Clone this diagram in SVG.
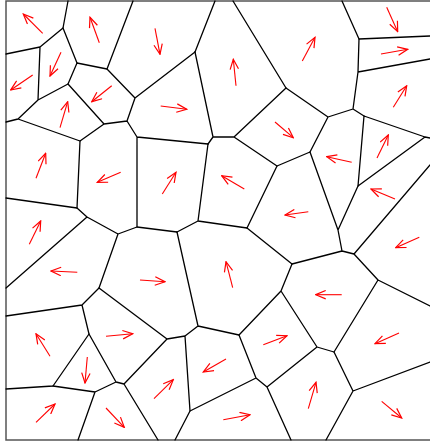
<svg xmlns="http://www.w3.org/2000/svg" width="430" height="443" viewBox="0 0 430 443">
<style>
.edge{fill:none;stroke:#000;stroke-width:1.3;stroke-linecap:round;stroke-linejoin:round}
.frame{fill:none;stroke:#555;stroke-width:1.5}
.arr{fill:none;stroke:#f00;stroke-width:1.1;marker-end:url(#ah)}
</style>
<defs>
<marker id="ah" markerUnits="userSpaceOnUse" viewBox="0 0 12 10" markerWidth="12" markerHeight="10" refX="11" refY="5" orient="auto">
<path d="M1,0.8 L11,5 L1,9.2" fill="none" stroke="#f00" stroke-width="1.2"/>
</marker>
</defs>
<rect id="frame" class="frame" x="6" y="1" width="440" height="439"/>
<g id="connectors" class="edge">
<path d="M68,1 L63,28 M133,1 L107,69 M215,1 L195,52 M233,1 L286,88 M342,1 L359,39"/>
<path d="M63,28 L40,47 M63,28 L77,63 M40,47 L6,54 M40,47 L38,100 M38,100 L18,119 M38,100 L68,84 M18,119 L6,122 M18,119 L80,141"/>
<path d="M77,63 L68,84 M77,63 L107,69 M68,84 L104,124 M104,124 L80,141 M104,124 L127,121 M107,69 L135,98 M135,98 L127,121 M135,98 L195,52 M127,121 L137,137 M137,137 L208,144 M137,137 L137,227 M80,141 L77,208"/>
<path d="M195,52 L213,137 M213,137 L234,137 M213,137 L208,144 M234,137 L286,88 M234,137 L277,166 M286,88 L328,117 M328,117 L353,109 M328,117 L310,152 M353,109 L358,72 M353,109 L364,116 M358,72 L359,39 M358,72 L430,59 M359,39 L430,36"/>
<path d="M364,116 L425,137 M364,116 L358,186 M425,137 L430,138 M425,137 L358,186"/>
<path d="M208,144 L198,221 M198,221 L177,232 M198,221 L247,228 M247,228 L277,166 M277,166 L310,152 M310,152 L338,230 M338,230 L358,186 M338,230 L342,251 M342,251 L354,254 M342,251 L292,264 M354,254 L430,165 M354,254 L378,280 M378,280 L430,306 M378,280 L334,352"/>
<path d="M247,228 L292,264 M292,264 L281,291 M281,291 L239,335 M281,291 L317,347 M317,347 L334,352 M317,347 L267,387 M334,352 L353,391 M353,391 L430,362 M353,391 L326,440 M267,387 L291,440 M267,387 L256,378 M256,378 L239,335 M256,378 L190,411"/>
<path d="M239,335 L198,326 M198,326 L177,232 M198,326 L185,336 M185,336 L167,339 M185,336 L190,411 M190,411 L175,440 M167,339 L99,288 M167,339 L124,384 M124,384 L116,382 M124,384 L158,440 M116,382 L89,334 M116,382 L95,392 M95,392 L53,386 M95,392 L78,440"/>
<path d="M53,386 L6,389 M53,386 L89,334 M89,334 L82,305 M82,305 L6,316 M82,305 L99,288 M99,288 L118,234 M118,234 L87,217 M118,234 L137,227 M137,227 L177,232 M87,217 L77,208 M87,217 L6,288 M77,208 L6,198"/>
</g>
<g id="arrows">
<path class="arr" d="M42.7,33.3 L23.3,14"/>
<path class="arr" d="M99.3,42.7 L90,17.3"/>
<path class="arr" d="M61,52.3 L50,76"/>
<path class="arr" d="M32.7,75 L10.7,90"/>
<path class="arr" d="M111.7,85.7 L91.7,101.7"/>
<path class="arr" d="M60,127.7 L67.7,101.7"/>
<path class="arr" d="M155,28.3 L160,54.3"/>
<path class="arr" d="M236,85.7 L233.3,59.3"/>
<path class="arr" d="M160.7,106 L186.7,109.3"/>
<path class="arr" d="M386.7,7.3 L397.7,31.7"/>
<path class="arr" d="M381,54 L407.7,49.3"/>
<path class="arr" d="M302.3,61 L315,37.3"/>
<path class="arr" d="M393.3,107.3 L406.7,85.7"/>
<path class="arr" d="M275,122 L293.3,137.7"/>
<path class="arr" d="M377,158 L388.3,135"/>
<path class="arr" d="M36,178.3 L45.7,153.3"/>
<path class="arr" d="M120.7,172.3 L97.3,182.3"/>
<path class="arr" d="M29.3,244.3 L40.7,221"/>
<path class="arr" d="M77.3,272.3 L51,271"/>
<path class="arr" d="M162.3,194 L176,172.3"/>
<path class="arr" d="M244.3,189 L221.7,175.7"/>
<path class="arr" d="M140,280 L165,281.7"/>
<path class="arr" d="M232.7,287.7 L226,261.7"/>
<path class="arr" d="M351.7,162.3 L326.7,156.7"/>
<path class="arr" d="M395,199 L371,189"/>
<path class="arr" d="M308.3,211.7 L285,215"/>
<path class="arr" d="M419.3,237.3 L395.7,247.7"/>
<path class="arr" d="M341.7,294.7 L315.7,294.7"/>
<path class="arr" d="M50,356.3 L36,333.7"/>
<path class="arr" d="M106,336.3 L132.7,333.7"/>
<path class="arr" d="M87.3,357 L85,383"/>
<path class="arr" d="M36,422.3 L55,404"/>
<path class="arr" d="M106,408 L124.3,427.3"/>
<path class="arr" d="M263.3,344.7 L287,335.7"/>
<path class="arr" d="M226,359 L203.3,372"/>
<path class="arr" d="M154,398.7 L173.3,379.7"/>
<path class="arr" d="M223.3,419.7 L250,414.7"/>
<path class="arr" d="M399,333 L375,343.7"/>
<path class="arr" d="M308.3,408.7 L316,382.3"/>
<path class="arr" d="M381.7,401.3 L401.7,418"/>
</g>
</svg>
